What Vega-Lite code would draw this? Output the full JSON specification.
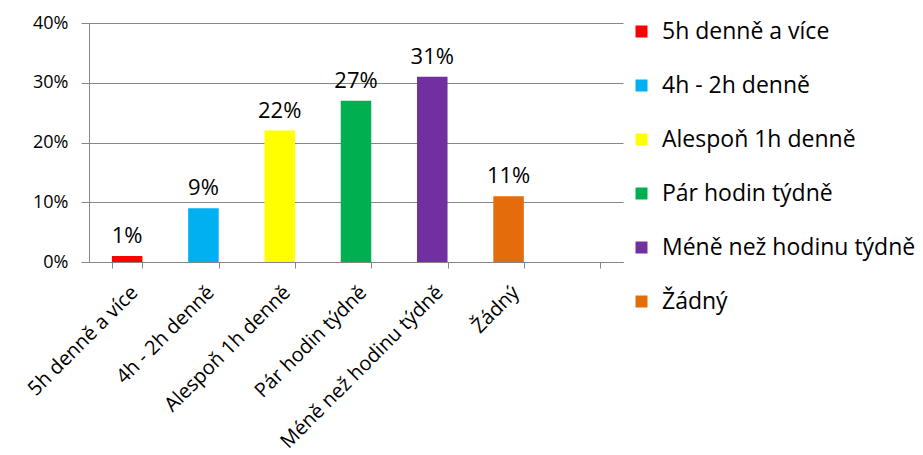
{
  "$schema": "https://vega.github.io/schema/vega-lite/v6.json",
  "width": 534,
  "height": 239,
  "autosize": {"type": "none"},
  "padding": {"left": 89, "top": 23, "right": 300, "bottom": 193},
  "background": "white",
  "config": {
    "view": {"stroke": null},
    "font": "Open Sans",
    "text": {"font": "Open Sans"}
  },
  "data": {
    "values": [
      {"kategorie": "5h denně a více", "podil": 0.01},
      {"kategorie": "4h - 2h denně", "podil": 0.09},
      {"kategorie": "Alespoň 1h denně", "podil": 0.22},
      {"kategorie": "Pár hodin týdně", "podil": 0.27},
      {"kategorie": "Méně než hodinu týdně", "podil": 0.31},
      {"kategorie": "Žádný", "podil": 0.11}
    ]
  },
  "encoding": {
    "x": {
      "field": "kategorie",
      "type": "nominal",
      "sort": null,
      "scale": {
        "domain": ["5h denně a více", "4h - 2h denně", "Alespoň 1h denně", "Pár hodin týdně", "Méně než hodinu týdně", "Žádný", " "],
        "paddingInner": 0.6,
        "paddingOuter": 0.3
      },
      "axis": {
        "title": null,
        "labelAngle": -45,
        "labelFontSize": 20,
        "labelColor": "#000000",
        "labelPadding": 14,
        "labelLimit": 400,
        "labelOverlap": false,
        "tickBand": "extent",
        "tickSize": 6,
        "tickColor": "#868686",
        "domainColor": "#868686",
        "grid": false,
        "labelFont": "Open Sans"
      }
    },
    "y": {
      "field": "podil",
      "type": "quantitative",
      "scale": {"domain": [0, 0.4], "nice": false},
      "axis": {
        "title": null,
        "values": [0, 0.1, 0.2, 0.3, 0.4],
        "format": ".0%",
        "labelFontSize": 18,
        "labelColor": "#000000",
        "labelPadding": 13,
        "tickSize": 8,
        "tickColor": "#868686",
        "domainColor": "#868686",
        "gridColor": "#868686",
        "labelFont": "Open Sans"
      }
    }
  },
  "layer": [
    {
      "mark": {"type": "bar"},
      "encoding": {
        "color": {
          "field": "kategorie",
          "type": "nominal",
          "sort": null,
          "scale": {
            "domain": ["5h denně a více", "4h - 2h denně", "Alespoň 1h denně", "Pár hodin týdně", "Méně než hodinu týdně", "Žádný"],
            "range": ["#FF0000", "#00B0F0", "#FFFF00", "#00B050", "#7030A0", "#E46C0A"]
          },
          "legend": {
            "title": null,
            "orient": "none",
            "legendX": 541,
            "legendY": -3,
            "symbolType": "square",
            "symbolSize": 144,
            "symbolStrokeWidth": 0,
            "labelFontSize": 23,
            "labelColor": "#000000",
            "labelOffset": 9,
            "rowPadding": 30,
            "labelLimit": 400,
            "labelFont": "Open Sans"
          }
        }
      }
    },
    {
      "mark": {"type": "text", "baseline": "alphabetic", "dy": -13, "fontSize": 22, "color": "#000000"},
      "encoding": {
        "text": {"field": "podil", "type": "quantitative", "format": ".0%"}
      }
    }
  ]
}
